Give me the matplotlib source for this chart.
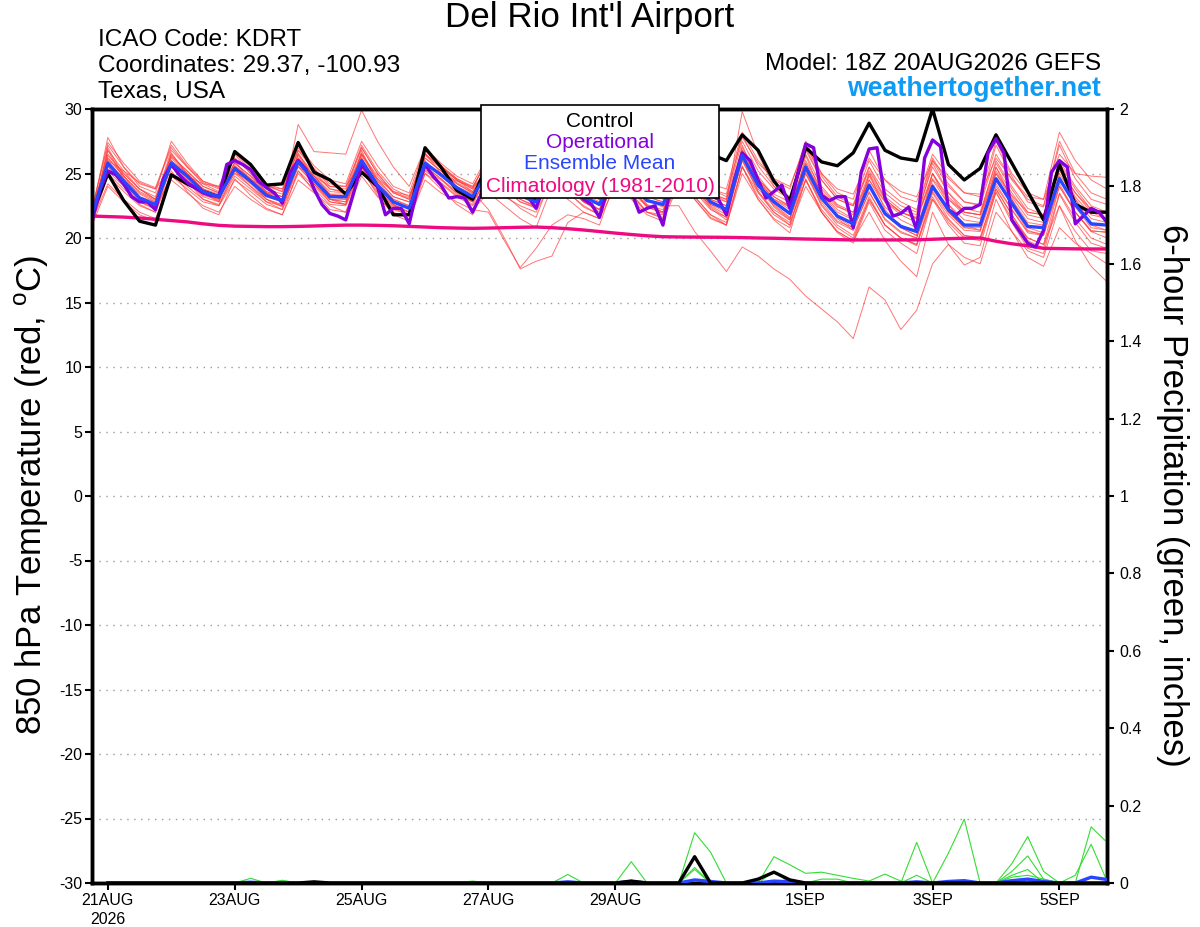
import matplotlib
matplotlib.use('Agg')
import matplotlib.pyplot as plt
from matplotlib.patches import Rectangle
import numpy as np
import pandas as pd

plt.rcParams['font.family'] = ['Liberation Sans', 'DejaVu Sans']
plt.rcParams['mathtext.fontset'] = 'custom'
plt.rcParams['mathtext.rm'] = 'Liberation Sans'
plt.rcParams['axes.unicode_minus'] = False

start = '2026-08-20 18:00'
times = pd.date_range(start, periods=65, freq='6h')      # GEFS, 6-hourly
times_op = pd.date_range(start, periods=129, freq='3h')  # operational GFS, 3-hourly

# 850 hPa temperature (C)
control = [21.8, 25.0, 22.9, 21.3, 21.0, 24.9, 24.2, 23.6, 23.2, 26.7, 25.7, 24.1, 24.2,
           27.4, 25.1, 24.5, 23.4, 25.1, 24.0, 21.8, 21.8, 27.0, 25.5, 23.7, 23.0,
           26.0, 24.8, 23.3, 23.0, 26.5, 25.2, 23.8, 23.2, 26.3, 25.0, 24.0, 23.5,
           26.5, 25.5, 26.5, 26.0, 28.0, 26.8, 24.4, 22.9, 27.0, 25.9, 25.6, 26.6,
           28.9, 26.8, 26.2, 26.0, 30.0, 25.7, 24.5, 25.4, 28.0, 25.8, 23.6, 21.4,
           25.7, 22.6, 22.0, 22.0]

operational = [21.3, 23.7, 25.2, 24.9, 24.2, 23.2, 22.8, 22.8, 22.2, 24.6, 25.7, 24.9,
               24.3, 23.9, 23.5, 23.3, 23.2, 25.7, 26.0, 25.7, 25.3, 24.4, 23.9, 23.5,
               22.7, 25.1, 26.0, 25.3, 23.8, 22.6, 21.9, 21.7, 21.4, 23.5, 25.7, 24.9,
               24.0, 21.8, 22.3, 22.3, 21.1, 23.7, 25.7, 24.8, 24.1, 23.1, 23.2, 23.1,
               22.0, 23.3, 25.8, 25.5, 24.6, 23.9, 23.5, 23.2, 22.3, 24.0, 25.9, 25.4,
               24.5, 23.6, 23.0, 22.6, 21.6, 23.8, 25.8, 25.0, 23.6, 22.0, 22.3, 22.5,
               21.0, 24.0, 26.0, 25.3, 24.5, 23.8, 23.3, 23.0, 21.8, 24.5, 26.6, 26.0,
               24.5, 23.1, 23.6, 24.1, 22.3, 25.0, 27.3, 27.0, 23.3, 22.9, 23.2, 23.2,
               20.8, 25.1, 26.9, 27.0, 23.1, 21.7, 21.9, 22.4, 20.6, 26.2, 27.6, 27.1,
               22.2, 21.8, 22.3, 22.3, 22.6, 26.6, 27.7, 26.6, 21.4, 20.5, 19.6, 19.3,
               20.6, 25.1, 26.0, 25.5, 21.1, 21.7, 22.3, 22.0, 21.2]

ens_mean = [21.8, 25.8, 24.4, 23.1, 22.6, 25.8, 24.8, 23.6, 23.2, 25.4, 24.4, 23.3, 22.9,
            25.9, 24.5, 23.2, 23.2, 26.0, 24.1, 22.8, 22.3, 25.8, 24.9, 23.9, 23.2,
            25.2, 24.2, 23.3, 22.8, 25.4, 24.3, 23.2, 22.6, 25.3, 24.2, 22.9, 22.6,
            25.3, 24.2, 22.8, 22.2, 26.4, 24.1, 22.8, 21.9, 25.5, 23.1, 21.7, 21.1,
            24.1, 21.9, 20.9, 20.5, 24.0, 22.2, 21.0, 21.0, 24.6, 22.7, 20.9, 20.8,
            24.6, 22.6, 21.1, 21.0]

climatology = [21.7, 21.66, 21.62, 21.55, 21.45, 21.35, 21.25, 21.1, 20.98, 20.92, 20.9,
               20.88, 20.88, 20.9, 20.93, 20.97, 21.0, 21.0, 20.98, 20.95, 20.9, 20.85,
               20.8, 20.77, 20.75, 20.77, 20.8, 20.83, 20.85, 20.8, 20.72, 20.62, 20.5,
               20.38, 20.27, 20.17, 20.1, 20.08, 20.07, 20.06, 20.05, 20.03, 20.0, 19.98,
               19.95, 19.92, 19.9, 19.87, 19.85, 19.85, 19.85, 19.85, 19.86, 19.9, 19.95,
               19.98, 20.0, 19.75, 19.55, 19.4, 19.2, 19.18, 19.16, 19.15, 19.15]

members = [
    [22.0, 27.8, 25.5, 24.0, 23.5, 27.5, 25.8, 24.4, 24.0, 26.8, 25.5, 24.2, 23.8, 27.2, 25.6, 24.5, 24.2,
     27.5, 25.6, 24.0, 23.5, 27.0, 25.8, 24.8, 24.2, 26.5, 25.2, 24.2, 23.8, 26.8, 25.3, 24.0, 23.4,
     27.0, 25.4, 24.0, 23.6, 26.8, 25.5, 24.2, 23.8, 28.2, 26.0, 24.5, 23.8, 27.5, 25.0, 23.5, 23.0,
     26.8, 24.5, 23.2, 22.8, 26.5, 24.8, 23.5, 23.2, 27.5, 25.0, 23.5, 23.0, 28.2, 26.0, 24.5, 23.8],
    [21.5, 27.0, 24.8, 23.2, 22.8, 26.5, 25.0, 23.8, 23.2, 26.5, 25.0, 23.5, 22.8, 28.8, 26.7, 26.6, 26.5,
     29.9, 27.5, 25.5, 24.0, 27.0, 25.5, 24.5, 23.8, 26.5, 25.0, 24.0, 23.2, 26.2, 25.0, 23.8, 23.0,
     26.5, 25.0, 23.5, 23.0, 26.8, 25.2, 23.5, 22.8, 29.8, 26.5, 24.0, 23.0, 27.0, 24.5, 23.0, 22.5,
     25.5, 23.5, 22.5, 22.0, 26.0, 24.0, 22.8, 22.5, 26.5, 24.5, 23.0, 22.5, 27.5, 25.0, 23.5, 23.0],
    [21.3, 24.2, 23.0, 22.0, 21.5, 24.5, 23.5, 22.5, 22.0, 24.0, 23.0, 22.2, 21.8, 24.5, 23.5, 22.5, 22.0,
     24.8, 23.2, 22.0, 21.5, 24.5, 23.5, 22.8, 22.2, 23.5, 22.5, 21.5, 20.8, 24.0, 23.0, 22.0, 21.5,
     24.0, 23.0, 21.8, 21.3, 24.2, 23.2, 21.8, 21.0, 25.0, 23.0, 21.5, 20.8, 24.0, 22.0, 20.5, 19.8,
     22.0, 19.8, 18.2, 17.0, 22.0, 19.5, 17.9, 18.5, 23.0, 20.5, 18.5, 17.8, 20.8, 19.6, 18.8, 18.0],
    [22.0, 26.5, 25.0, 23.8, 23.0, 26.3, 25.2, 24.0, 23.5, 25.8, 24.8, 23.6, 23.2, 26.2, 24.8, 23.4, 23.4,
     26.5, 24.5, 23.2, 22.8, 26.2, 25.2, 24.2, 23.5, 25.8, 24.6, 23.6, 23.2, 25.8, 24.6, 23.5, 23.0,
     25.8, 24.5, 23.2, 22.8, 25.6, 24.4, 23.0, 22.5, 26.8, 24.6, 23.2, 22.4, 26.0, 23.8, 22.5, 21.8,
     25.0, 23.0, 22.0, 21.5, 25.0, 23.2, 22.0, 21.8, 25.5, 23.5, 21.8, 21.5, 25.5, 23.5, 22.0, 21.5],
    [21.8, 25.2, 24.0, 22.8, 22.2, 25.5, 24.4, 23.2, 22.8, 25.0, 24.0, 23.0, 22.5, 25.5, 24.2, 23.0, 22.8,
     25.5, 23.8, 22.5, 22.0, 25.3, 24.5, 23.5, 22.8, 24.8, 23.8, 23.0, 22.5, 25.0, 24.0, 22.8, 22.2,
     24.8, 23.8, 22.5, 22.2, 24.8, 23.8, 22.5, 21.8, 26.0, 23.8, 22.5, 21.5, 25.0, 22.8, 21.3, 20.8,
     23.5, 21.5, 20.5, 20.0, 23.8, 22.0, 20.8, 20.8, 24.2, 22.2, 20.5, 20.3, 24.2, 22.0, 20.5, 20.5],
    [21.6, 26.0, 24.6, 23.4, 22.8, 26.2, 25.0, 23.6, 23.0, 25.6, 24.6, 23.5, 23.2, 26.5, 25.0, 23.8, 23.5,
     26.5, 24.8, 23.5, 23.0, 26.5, 25.5, 24.5, 23.8, 25.5, 24.5, 23.5, 23.0, 26.0, 24.8, 23.6, 23.0,
     25.8, 24.8, 23.5, 23.2, 25.8, 24.6, 23.2, 22.8, 27.0, 24.8, 23.2, 22.5, 26.5, 24.0, 22.6, 22.0,
     25.5, 23.0, 22.0, 21.5, 25.8, 23.5, 22.0, 21.8, 26.0, 24.0, 22.3, 21.8, 26.0, 24.0, 22.5, 22.0],
    [21.7, 25.5, 24.2, 23.0, 22.5, 25.8, 24.5, 23.3, 23.0, 25.2, 24.2, 23.0, 22.6, 25.6, 24.2, 23.0, 22.8,
     25.8, 24.0, 22.6, 22.0, 25.5, 24.6, 23.6, 22.2, 22.0, 19.8, 17.7, 19.2, 21.0, 21.8, 21.5, 21.0,
     24.5, 23.5, 22.0, 21.5, 24.5, 23.0, 21.5, 21.0, 25.5, 23.5, 22.0, 21.2, 24.5, 22.0, 20.5, 19.8,
     23.0, 21.0, 20.0, 19.5, 23.5, 21.5, 20.2, 20.0, 23.8, 21.8, 20.0, 19.5, 24.0, 22.0, 20.5, 20.0],
    [21.9, 26.2, 24.8, 23.5, 22.9, 26.0, 24.8, 23.8, 23.4, 25.5, 24.5, 23.4, 23.0, 26.0, 24.5, 23.2, 23.0,
     26.2, 24.2, 23.0, 22.5, 25.8, 25.0, 24.0, 23.4, 25.5, 24.4, 23.5, 23.0, 25.6, 24.5, 23.4, 22.8,
     25.5, 24.3, 23.0, 22.5, 22.5, 20.5, 19.0, 17.4, 19.3, 18.6, 17.6, 16.8, 15.5, 14.5, 13.5, 12.2,
     16.2, 15.2, 12.9, 14.4, 18.0, 19.5, 18.5, 18.0, 22.0, 20.5, 19.0, 18.5, 22.5, 20.5, 19.0, 18.8],
    [21.4, 26.8, 25.2, 23.8, 23.0, 26.8, 25.5, 24.2, 23.6, 26.2, 25.0, 23.8, 23.4, 26.8, 25.2, 23.8, 23.6,
     27.0, 25.0, 23.5, 23.0, 26.8, 25.5, 24.5, 23.6, 22.2, 20.0, 17.6, 18.2, 18.6, 21.2, 22.0, 21.5,
     25.0, 23.8, 22.5, 22.0, 25.5, 24.0, 22.6, 22.2, 26.5, 24.5, 23.0, 22.2, 25.8, 23.5, 22.2, 21.5,
     24.8, 22.8, 21.8, 21.2, 25.0, 23.0, 21.8, 21.5, 25.2, 23.2, 21.5, 21.2, 25.5, 23.2, 21.8, 21.5],
    [21.8, 25.0, 23.8, 22.8, 22.3, 24.8, 23.8, 22.8, 22.5, 24.5, 23.6, 22.6, 22.2, 25.0, 23.8, 22.6, 22.5,
     25.2, 23.5, 22.2, 21.8, 25.0, 24.2, 23.2, 22.5, 24.2, 23.2, 22.5, 22.0, 24.5, 23.5, 22.5, 21.8,
     24.5, 23.4, 22.0, 21.8, 24.5, 23.2, 21.8, 21.2, 25.5, 23.2, 21.8, 21.0, 24.5, 22.2, 20.8, 20.0,
     23.0, 21.0, 20.0, 19.5, 23.2, 21.2, 20.0, 19.8, 23.5, 21.5, 20.0, 19.5, 22.5, 19.8, 17.8, 16.6],
    [22.2, 27.2, 25.5, 24.2, 23.8, 27.0, 25.5, 24.3, 23.8, 26.2, 25.2, 24.0, 23.6, 26.8, 25.4, 24.0, 23.8,
     27.2, 25.2, 23.8, 23.2, 26.5, 25.6, 24.6, 24.0, 26.0, 25.0, 24.0, 23.6, 26.2, 25.0, 23.8, 23.3,
     26.3, 25.0, 23.6, 23.2, 26.2, 25.0, 23.5, 23.0, 27.5, 25.2, 23.8, 23.0, 26.8, 24.5, 23.0, 22.5,
     25.2, 23.2, 22.2, 21.8, 25.5, 23.5, 22.3, 22.0, 25.8, 23.8, 22.0, 21.8, 25.8, 23.8, 22.2, 22.0],
    [21.2, 24.8, 23.6, 22.5, 22.0, 25.0, 24.0, 23.0, 22.6, 24.8, 23.8, 22.8, 22.5, 25.2, 24.0, 22.8, 22.6,
     25.5, 23.6, 22.3, 21.8, 25.2, 24.3, 23.3, 22.8, 24.8, 23.8, 22.8, 22.4, 25.0, 23.8, 22.8, 22.2,
     24.8, 23.6, 22.4, 22.0, 24.8, 23.6, 22.2, 21.6, 26.0, 23.6, 22.2, 21.4, 25.2, 22.6, 21.2, 20.6,
     23.6, 21.4, 20.4, 20.0, 23.6, 21.8, 20.6, 20.5, 24.0, 22.2, 20.4, 20.2, 24.0, 22.0, 20.6, 20.4],
    [22.4, 26.0, 25.2, 24.3, 23.8, 25.5, 24.8, 24.2, 24.0, 25.0, 24.5, 24.0, 23.8, 25.5, 24.8, 24.0, 24.0,
     25.8, 24.6, 23.6, 23.3, 25.6, 25.0, 24.4, 24.0, 25.0, 24.4, 23.8, 23.5, 25.2, 24.5, 23.8, 23.4,
     25.2, 24.4, 23.5, 23.3, 25.0, 24.2, 23.4, 23.0, 26.2, 24.5, 23.4, 22.8, 25.4, 23.6, 22.4, 22.0,
     24.5, 22.8, 22.0, 21.6, 24.6, 23.0, 22.0, 21.8, 25.0, 23.3, 22.0, 21.8, 25.2, 23.5, 22.2, 22.0],
    [21.6, 26.8, 24.6, 23.0, 22.3, 26.6, 24.9, 23.5, 22.8, 26.0, 24.4, 23.0, 22.4, 26.6, 24.6, 23.0, 22.6,
     26.8, 24.2, 22.6, 21.8, 26.6, 25.0, 23.6, 22.8, 25.8, 24.2, 23.0, 22.4, 26.0, 24.3, 23.0, 22.2,
     26.0, 24.2, 22.6, 22.0, 25.8, 24.0, 22.4, 21.6, 27.2, 24.4, 22.4, 21.4, 26.4, 23.4, 21.5, 20.6,
     25.0, 22.2, 20.8, 20.2, 25.0, 22.6, 21.0, 20.6, 25.5, 23.0, 20.8, 20.4, 25.8, 23.0, 21.0, 20.6],
    [21.5, 25.6, 24.0, 22.6, 22.0, 25.6, 24.4, 23.0, 22.5, 25.2, 24.0, 22.8, 22.2, 25.8, 24.2, 22.8, 22.6,
     25.8, 23.8, 22.4, 21.8, 25.6, 24.6, 23.4, 22.6, 25.0, 23.9, 22.8, 22.3, 25.2, 24.0, 22.8, 22.0,
     25.2, 23.9, 22.4, 21.9, 25.0, 23.8, 22.3, 21.4, 26.2, 23.6, 22.0, 21.0, 25.0, 22.5, 21.0, 20.2,
     23.2, 21.0, 20.0, 19.4, 23.0, 21.4, 20.2, 20.0, 23.8, 21.8, 19.8, 19.2, 23.5, 21.5, 20.0, 19.5],
    [21.9, 26.4, 25.0, 23.8, 23.2, 26.4, 25.2, 24.0, 23.5, 25.8, 24.8, 23.6, 23.2, 26.4, 24.8, 23.6, 23.5,
     26.6, 24.6, 23.2, 22.8, 26.4, 25.4, 24.3, 23.6, 25.8, 24.8, 23.8, 23.4, 26.0, 24.8, 23.6, 23.2,
     26.0, 24.8, 23.4, 23.2, 26.2, 25.0, 23.8, 23.4, 27.8, 25.8, 24.6, 24.0, 27.2, 25.0, 23.8, 23.4,
     26.2, 24.5, 23.6, 23.2, 26.0, 24.6, 23.5, 23.4, 26.2, 24.6, 23.2, 23.0, 26.5, 25.0, 24.8, 24.7],
    [21.7, 25.8, 24.2, 22.9, 22.4, 26.0, 24.6, 23.4, 22.9, 25.5, 24.3, 23.2, 22.8, 26.0, 24.4, 23.0, 23.0,
     26.2, 24.0, 22.6, 22.0, 26.0, 24.8, 23.8, 23.0, 25.4, 24.2, 23.2, 22.7, 25.6, 24.3, 23.2, 22.5,
     25.5, 24.2, 22.9, 22.4, 25.5, 24.2, 22.6, 22.0, 26.6, 24.0, 22.6, 21.6, 25.6, 23.0, 21.6, 20.8,
     24.2, 21.8, 20.8, 20.2, 24.2, 22.0, 20.8, 20.6, 24.6, 22.5, 20.6, 20.2, 24.8, 22.4, 20.8, 20.6],
    [22.1, 26.2, 24.8, 23.6, 23.0, 26.0, 25.0, 23.8, 23.3, 25.6, 24.6, 23.5, 23.0, 26.2, 24.8, 23.4, 23.2,
     26.4, 24.4, 23.0, 22.5, 26.2, 25.2, 24.2, 23.5, 25.4, 24.5, 23.5, 23.0, 25.8, 24.6, 23.4, 23.0,
     25.6, 24.5, 23.2, 22.8, 25.6, 24.4, 23.0, 22.5, 26.8, 24.4, 23.0, 22.4, 25.8, 23.4, 22.0, 21.4,
     24.5, 22.4, 21.4, 20.8, 24.5, 22.6, 21.4, 21.2, 25.0, 23.0, 21.2, 21.0, 25.0, 23.0, 21.5, 21.2],
    [21.0, 24.0, 22.8, 21.8, 21.3, 25.2, 23.6, 22.3, 21.8, 24.6, 23.3, 22.3, 21.8, 25.2, 23.6, 22.2, 22.0,
     25.4, 23.3, 21.8, 21.3, 25.0, 23.8, 22.6, 21.8, 24.6, 23.4, 22.3, 21.6, 24.8, 23.6, 22.4, 21.8,
     24.6, 23.2, 22.0, 21.6, 24.5, 23.0, 21.6, 21.0, 25.6, 23.0, 21.4, 20.4, 24.6, 22.0, 20.4, 19.6,
     22.8, 20.6, 19.6, 18.8, 23.0, 21.0, 19.6, 19.4, 23.6, 21.2, 19.2, 18.8, 23.4, 21.2, 19.6, 19.2],
    [22.3, 27.4, 25.8, 24.4, 23.9, 27.2, 25.6, 24.4, 23.9, 26.6, 25.3, 24.1, 23.6, 27.0, 25.3, 24.2, 24.0,
     27.0, 25.0, 23.6, 23.1, 26.8, 25.6, 24.6, 23.9, 26.2, 25.0, 24.0, 23.5, 26.5, 25.2, 24.0, 23.6,
     26.6, 25.2, 23.8, 23.4, 26.5, 25.2, 23.8, 23.2, 28.0, 25.6, 24.0, 23.2, 27.2, 24.8, 23.2, 22.6,
     26.0, 23.8, 22.8, 22.2, 26.2, 24.2, 22.8, 22.6, 27.2, 24.8, 22.8, 22.4, 27.2, 24.6, 23.0, 22.6],
]

# 6-hour precipitation (inches), only the non-zero steps, keyed by 6-hourly step
precip_members = [
    {10: 0.012, 34: 0.055, 52: 0.105, 54: 0.077, 55: 0.165},
    {38: 0.13, 39: 0.08, 58: 0.05, 59: 0.12, 60: 0.03},
    {43: 0.068, 44: 0.047, 45: 0.025, 46: 0.028, 47: 0.02, 48: 0.012, 49: 0.005, 50: 0.023, 51: 0.005},
    {12: 0.007, 30: 0.022, 38: 0.04, 58: 0.03, 59: 0.07, 60: 0.01, 63: 0.145, 64: 0.105},
    {24: 0.005, 46: 0.01, 47: 0.01, 58: 0.02, 59: 0.035, 62: 0.02, 63: 0.1, 64: 0.005},
    {38: 0.035, 43: 0.03, 52: 0.02, 58: 0.015, 59: 0.02, 60: 0.01},
]
precip_control = {14: 0.003, 34: 0.005, 38: 0.068, 42: 0.01, 43: 0.028, 44: 0.008}
precip_mean = {10: 0.002, 30: 0.003, 34: 0.004, 38: 0.008, 39: 0.004, 43: 0.005, 44: 0.003,
               52: 0.003, 54: 0.004, 55: 0.006, 58: 0.006, 59: 0.01, 60: 0.004, 63: 0.015, 64: 0.009}

tick_days = ['2026-08-21', '2026-08-23', '2026-08-25', '2026-08-27', '2026-08-29',
             '2026-09-01', '2026-09-03', '2026-09-05']
tick_labels = ['21AUG\n2026', '23AUG', '25AUG', '27AUG', '29AUG', '1SEP', '3SEP', '5SEP']

legend_items = [('Control', 'black'), ('Operational', '#8400dc'),
                ('Ensemble Mean', '#2a45ff'), ('Climatology (1981-2010)', '#ee0a80')]


def to_series(steps):
    vals = np.zeros(len(times))
    for k, v in steps.items():
        vals[k] = v
    return vals[1:]


fig = plt.figure(figsize=(12, 9.27), dpi=100)
ax = fig.add_axes([92 / 1200, 44 / 927, 1015 / 1200, 774 / 927])

for m in members:
    ax.plot(times, m, color='#ff3b3b', lw=0.7, alpha=0.7, zorder=2)
ax.plot(times, climatology, color='#ee0a80', lw=2.4, zorder=3)
ax.plot(times, control, color='black', lw=2.4, zorder=4)
ax.plot(times_op, operational, color='#8400dc', lw=2.4, zorder=5)
ax.plot(times, ens_mean, color='#2a45ff', lw=2.4, zorder=6)

ax.set_xlim(times[0], times[-1])
ax.set_ylim(-30, 30)
ax.set_yticks(range(-30, 31, 5))
ax.grid(axis='y', linestyle=(0, (1, 4)), color='#999999', lw=1)
ax.set_xticks(pd.to_datetime(tick_days))
ax.set_xticklabels(tick_labels, linespacing=1.35)
ax.tick_params(axis='both', direction='out', length=5, width=1.5, labelsize=11.5, pad=2)

axp = ax.twinx()
for p in precip_members:
    axp.plot(times[1:], to_series(p), color='#33dd33', lw=0.8, zorder=2)
axp.plot(times[1:], to_series(precip_mean), color='#2a45ff', lw=2.4, zorder=3)
axp.plot(times[1:], to_series(precip_control), color='black', lw=2.4, zorder=4)
axp.set_ylim(0, 2)
pt = np.round(np.arange(0, 2.01, 0.2), 1)
axp.set_yticks(pt)
axp.set_yticklabels([f'{v:g}' for v in pt])
axp.tick_params(axis='y', direction='out', length=5, width=1.5, labelsize=11.5, pad=4)

for a in (ax, axp):
    for s in a.spines.values():
        s.set_linewidth(2.5)

# legend box on top of the lines
axp.add_patch(Rectangle((0.3833, 0.885), 0.2345, 0.12, transform=axp.transAxes,
                        facecolor='white', edgecolor='black', lw=1.2, zorder=10, clip_on=False))
for (txt, col), ypx in zip(legend_items, [121, 142, 163, 186]):
    axp.text(0.5005, (883 - ypx) / 774, txt, color=col, fontsize=15, ha='center', va='center',
             transform=axp.transAxes, zorder=11)

fig.text(32 / 1200, 1 - 495 / 927, '850 hPa Temperature (red, $^{\\rm o}$C)', rotation=90,
         ha='center', va='center', fontsize=25)
fig.text(1172 / 1200, 1 - 495 / 927, '6-hour Precipitation (green, inches)', rotation=270,
         ha='center', va='center', fontsize=25)

fig.text(590 / 1200, 1 - 18 / 927, "Del Rio Int'l Airport", ha='center', va='center', fontsize=25.2)
fig.text(98 / 1200, 1 - 40 / 927, 'ICAO Code: KDRT', ha='left', va='center', fontsize=17.6)
fig.text(98 / 1200, 1 - 66 / 927, 'Coordinates: 29.37, -100.93', ha='left', va='center', fontsize=17.6)
fig.text(98 / 1200, 1 - 92 / 927, 'Texas, USA', ha='left', va='center', fontsize=17.6)
fig.text(1101 / 1200, 1 - 64 / 927, 'Model: 18Z 20AUG2026 GEFS', ha='right', va='center', fontsize=17.6)
fig.text(1101 / 1200, 1 - 89 / 927, 'weathertogether.net', ha='right', va='center', fontsize=19.3,
         fontweight='bold', color='#0d9bf5')

fig.savefig('out.png', dpi=100)
